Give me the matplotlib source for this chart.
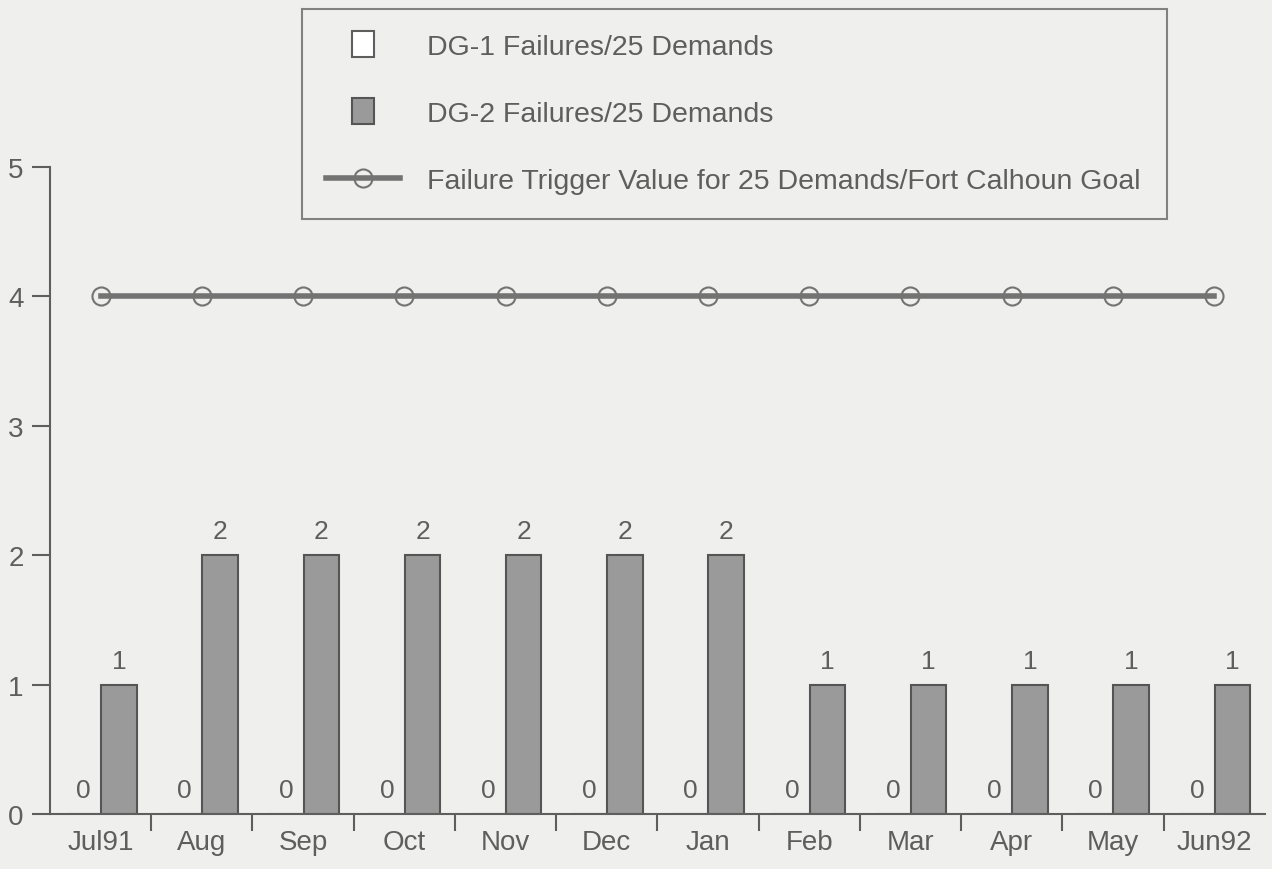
import matplotlib.pyplot as plt
import matplotlib.patches as mpatches
from matplotlib.legend_handler import HandlerPatch
import numpy as np

plt.rcParams['font.family'] = ['Liberation Sans', 'DejaVu Sans']

months = ['Jul91', 'Aug', 'Sep', 'Oct', 'Nov', 'Dec', 'Jan', 'Feb', 'Mar', 'Apr', 'May', 'Jun92']
dg1_failures = [0, 0, 0, 0, 0, 0, 0, 0, 0, 0, 0, 0]
dg2_failures = [1, 2, 2, 2, 2, 2, 2, 1, 1, 1, 1, 1]
trigger_value = [4, 4, 4, 4, 4, 4, 4, 4, 4, 4, 4, 4]

bg = '#efefed'
ink = '#5e5e5e'

fig = plt.figure(figsize=(12.72, 8.70), dpi=100, facecolor=bg)
ax = fig.add_axes([0.0393, 0.0632, 0.955, 0.744], facecolor=bg)

x = np.arange(len(months))
w = 0.35
b1 = ax.bar(x - 0.17, dg1_failures, w, color='white', edgecolor=ink, linewidth=1.5)
b2 = ax.bar(x + 0.18, dg2_failures, w, color='#9a9a9a', edgecolor='#555555', linewidth=1.5)
ln, = ax.plot(x, trigger_value, color='#737373', lw=4, marker='o', ms=13,
              mfc='none', mec='#737373', mew=1.5)

for xi, v in zip(x, dg1_failures):
    ax.text(xi - 0.17, v + 0.09, str(v), ha='center', va='bottom', fontsize=19, color=ink)
for xi, v in zip(x, dg2_failures):
    ax.text(xi + 0.18, v + 0.09, str(v), ha='center', va='bottom', fontsize=19, color=ink)

ax.set_xlim(-0.5, 11.5)
ax.set_ylim(0, 5)
ax.set_yticks(range(6))
ax.set_xticks(x)
ax.set_xticklabels(months)
ax.set_xticks(x[:-1] + 0.5, minor=True)
ax.tick_params(axis='x', which='major', length=0, labelsize=20, labelcolor=ink, pad=11)
ax.tick_params(axis='x', which='minor', length=12, width=1.5, color=ink, direction='out')
ax.tick_params(axis='y', length=13, width=1.5, color=ink, labelsize=20, labelcolor=ink, pad=6)

for s in ['top', 'right']:
    ax.spines[s].set_visible(False)
for s in ['left', 'bottom']:
    ax.spines[s].set_color(ink)
    ax.spines[s].set_linewidth(1.5)


def square_patch(legend, orig_handle, xdescent, ydescent, width, height, fontsize):
    side_w = 0.3 * width
    return mpatches.Rectangle((width / 2 - side_w / 2 - xdescent, -ydescent - 0.1 * height),
                              side_w, 1.2 * height)


leg = fig.legend([b1[0], b2[0], ln],
                 ['DG-1 Failures/25 Demands', 'DG-2 Failures/25 Demands',
                  'Failure Trigger Value for 25 Demands/Fort Calhoun Goal'],
                 loc='upper left',
                 bbox_to_anchor=(302 / 1272, 657 / 870, 865 / 1272, 203 / 870),
                 mode='expand', fontsize=20.5,
                 frameon=True, fancybox=False, edgecolor='#666666', facecolor=bg,
                 labelspacing=1.42, handlelength=2.6, handleheight=0.8, handletextpad=0.95,
                 borderpad=0.85, borderaxespad=0,
                 handler_map={mpatches.Rectangle: HandlerPatch(patch_func=square_patch)})
leg.get_frame().set_linewidth(1.5)
for t in leg.get_texts():
    t.set_color(ink)

fig.savefig('out.png', dpi=100, facecolor=bg)
